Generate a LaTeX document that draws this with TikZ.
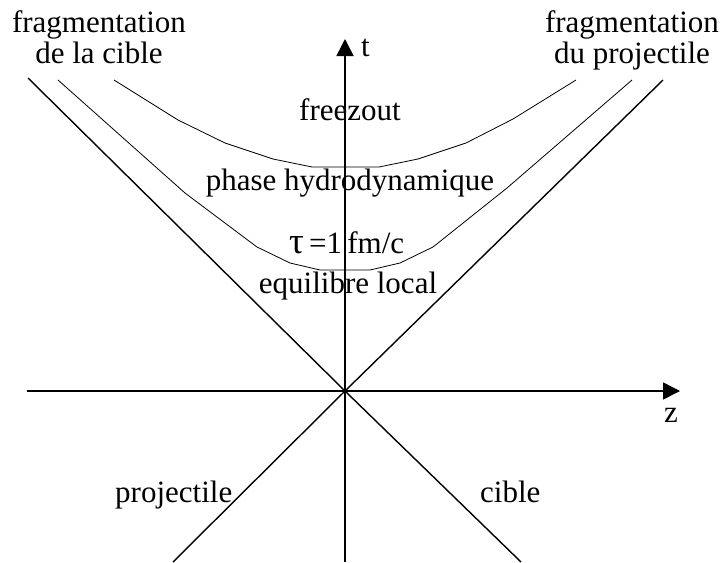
\documentclass[tikz,border=0pt]{standalone}
\usepackage{fontspec}
\setmainfont{Liberation Serif}
\usetikzlibrary{arrows.meta}
\tikzset{
  lbl/.style={anchor=base, inner sep=0pt, font=\fontsize{31}{36}\selectfont},
  axis/.style={line width=1.5pt, -{Triangle[length=17pt,width=17pt]}},
  cone/.style={line width=1.4pt},
  hyp/.style={line width=0.8pt, line join=round}
}
\begin{document}
\begin{tikzpicture}[x=1pt,y=-1pt]
\useasboundingbox (0,0) rectangle (725,562);
% origin and axis ends
\coordinate (O) at (345,391);
\coordinate (zstart) at (27,391);
\coordinate (zend) at (680,391);
\coordinate (tstart) at (345,562);
\coordinate (tend) at (345,39);
% light cone
\coordinate (cl1) at (28,78);
\coordinate (cl2) at (521,562);
\coordinate (cr1) at (663,80);
\coordinate (cr2) at (173,562);
\draw[cone] (cl1) -- (O) -- (cl2);
\draw[cone] (cr1) -- (O) -- (cr2);
% axes
\draw[axis] (zstart) -- (zend);
\draw[axis] (tstart) -- (tend);
% hyperbolae
\draw[hyp] (114,80) -- (178,120) -- (225,143) -- (273,159) -- (312,167)
  -- (379,167) -- (418,159) -- (466,143) -- (513,119) -- (576,80);
\draw[hyp] (58,80) -- (185,193) -- (257,247) -- (290,263) -- (320,270)
  -- (370,270) -- (400,263) -- (433,247) -- (507,188) -- (632,80);
% labels
\node[lbl] (fragL1) at (99,32) {fragmentation};
\node[lbl] (fragL2) at (99,63) {de la cible};
\node[lbl] (fragR1) at (632,32) {fragmentation};
\node[lbl] (fragR2) at (632,63) {du projectile};
\node[lbl, anchor=base west] (t) at (361,56) {t};
\node[lbl, anchor=base] (z) at (671,422) {z};
\node[lbl] (freez) at (350,120) {freezout};
\node[lbl] (hydro) at (350,190) {phase hydrodynamique};
\node[lbl, anchor=base west] (tau) at (289,253) {{\fontsize{37}{40}\selectfont τ}\,=1\,fm/c};
\node[lbl] (equi) at (348,293) {equilibre local};
\node[lbl, anchor=base west] (proj) at (115,502) {projectile};
\node[lbl, anchor=base west] (cible) at (480,502) {cible};
\end{tikzpicture}
\end{document}
